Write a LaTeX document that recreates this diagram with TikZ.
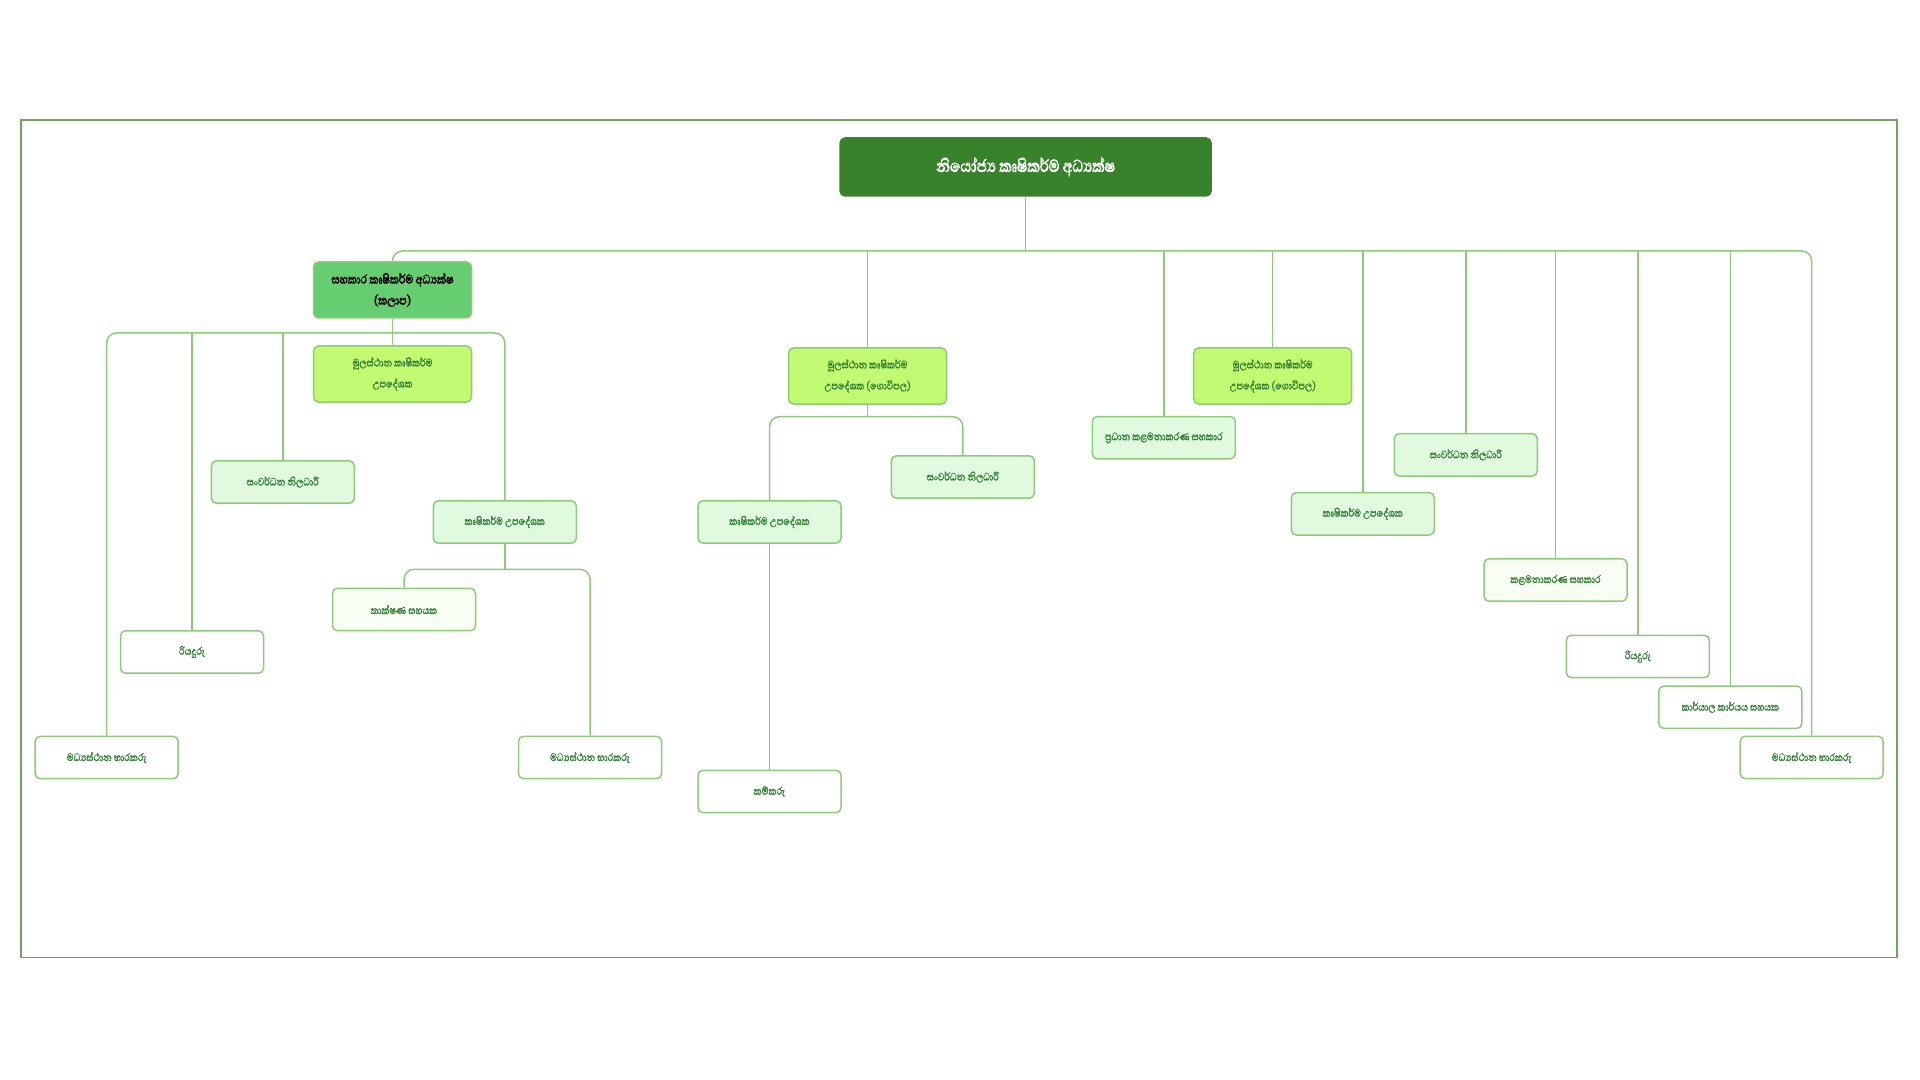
\documentclass[tikz,border=0pt]{standalone}
\usepackage{fontspec}
\newfontfamily\sinhala[Script=Sinhala,FakeStretch=0.8,FakeBold=1]{Abhaya Libre}
\newfontfamily\sinhalafett[Script=Sinhala,FakeStretch=0.8,FakeBold=2.5]{Abhaya Libre}
\definecolor{rahmen}{RGB}{106,170,90}
\definecolor{linie}{RGB}{140,204,120}
\definecolor{dunkel}{RGB}{56,130,44}
\definecolor{mittel}{RGB}{102,206,112}
\definecolor{limette}{RGB}{194,250,114}
\definecolor{hell}{RGB}{224,249,223}
\definecolor{blass}{RGB}{249,254,244}
\definecolor{schrift}{RGB}{46,125,50}

% Abzweig: Eltern, Schienenhoehe, linkes Kind, rechtes Kind, mittlere Kinder
\def\abzweig#1#2#3#4#5{
	\draw[linie,rounded corners=5] (#3.north) -- (#3.north |- #2) -- (#4.north |- #2) -- (#4.north);
	\draw[linie] (#1.south) -- (#1.south |- #2);
	\foreach \k in {#5} \draw[linie] (\k.north |- #2) -- (\k.north);
}

\begin{document}
\begin{tikzpicture}[x=0.5pt,y=-0.5pt,
	box/.style={draw=linie,line width=0.75pt,rounded corners=2.5pt,align=center,
		font=\sinhala\fontsize{7}{10.5}\selectfont,text=schrift,
		minimum width=71.5pt,minimum height=21.2pt,inner sep=1pt},
	weiss/.style={box,fill=white},
	blassbox/.style={box,fill=blass},
	hellbox/.style={box,fill=hell},
	limbox/.style={box,fill=limette,minimum width=79pt,minimum height=28pt},
	linie/.style={draw=linie,line width=0.75pt}]
\useasboundingbox (0,0) rectangle (1920,1080);
\draw[rahmen,line width=0.6pt] (21,120) rectangle (1897,957.5);

\node[box,fill=dunkel,draw=dunkel,text=white,minimum width=185.5pt,minimum height=29pt,
	font=\sinhalafett\fontsize{11}{13}\selectfont] (direktor) at (1025.6,167) {නියෝජ්‍ය කෘෂිකර්ම අධ්‍යක්ෂ};
\node[box,fill=mittel,text=black,minimum width=79pt,minimum height=28pt,
	font=\sinhalafett\fontsize{8}{10.5}\selectfont] (kalapa) at (392.5,290) {සහකාර කෘෂිකර්ම අධ්‍යක්ෂ\\(කලාප)};

% linke Seite
\node[limbox] (mula1) at (392.5,374) {මූලස්ථාන කෘෂිකර්ම\\උපදේශක};
\node[hellbox] (sanw1) at (282.8,482) {සංවර්ධන නිලධාරී};
\node[hellbox] (krushi1) at (504.8,522) {කෘෂිකර්ම උපදේශක};
\node[blassbox] (taks) at (404,609.5) {තාක්ෂණ සහයක};
\node[weiss] (riya1) at (192,652) {රියදුරු};
\node[weiss] (madhya1) at (106.7,757.5) {මධ්‍යස්ථාන භාරකරු};
\node[weiss] (madhya2) at (590,757.5) {මධ්‍යස්ථාන භාරකරු};

% Mitte
\node[limbox] (mula2) at (867.5,376) {මූලස්ථාන කෘෂිකර්ම\\උපදේශක (ගොවිපල)};
\node[hellbox] (krushi2) at (769.5,522) {කෘෂිකර්ම උපදේශක};
\node[hellbox] (sanw2) at (962.8,477) {සංවර්ධන නිලධාරී};
\node[weiss] (kamkaru) at (769.5,791.5) {කම්කරු};

% rechte Seite
\node[hellbox] (pradhana) at (1163.8,437.7) {ප්‍රධාන කළමනාකරණ සහකාර};
\node[limbox] (mula3) at (1272.7,376) {මූලස්ථාන කෘෂිකර්ම\\උපදේශක (ගොවිපල)};
\node[hellbox] (krushi3) at (1362.8,513.8) {කෘෂිකර්ම උපදේශක};
\node[hellbox] (sanw3) at (1465.8,454.8) {සංවර්ධන නිලධාරී};
\node[blassbox] (kalam) at (1555.5,580) {කළමනාකරණ සහකාර};
\node[weiss] (riya2) at (1637.8,656.5) {රියදුරු};
\node[weiss] (karyala) at (1730.3,707.2) {කාර්යාල කාර්යය සහයක};
\node[weiss] (madhya3) at (1811.7,757.5) {මධ්‍යස්ථාන භාරකරු};

\coordinate (s1) at (0,251);
\coordinate (s2) at (0,333);
\coordinate (s3) at (0,569.3);
\coordinate (s4) at (0,416.7);

\abzweig{direktor}{s1}{kalapa}{madhya3}{mula2,pradhana,mula3,krushi3,sanw3,kalam,riya2,karyala}
\abzweig{kalapa}{s2}{madhya1}{krushi1}{riya1,sanw1,mula1}
\abzweig{krushi1}{s3}{taks}{madhya2}{}
\abzweig{mula2}{s4}{krushi2}{sanw2}{}
\draw[linie] (krushi2) -- (kamkaru);
\end{tikzpicture}
\end{document}
